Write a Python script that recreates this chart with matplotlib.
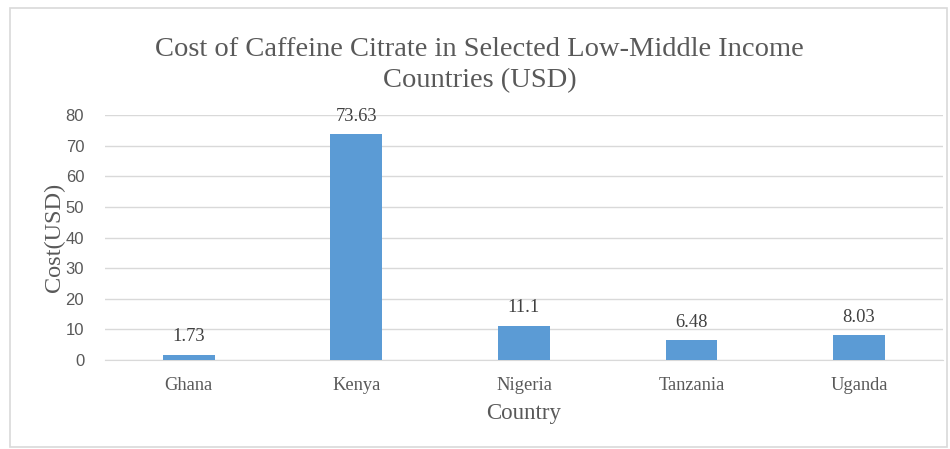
import matplotlib.pyplot as plt
from matplotlib.patches import Rectangle

countries = ['Ghana', 'Kenya', 'Nigeria', 'Tanzania', 'Uganda']
cost_usd = [1.73, 73.63, 11.1, 6.48, 8.03]
cost_labels = ['1.73', '73.63', '11.1', '6.48', '8.03']
y_ticks = [0, 10, 20, 30, 40, 50, 60, 70, 80]

serif = ['Liberation Serif', 'DejaVu Serif']
sans = ['Liberation Sans', 'DejaVu Sans']

fig = plt.figure(figsize=(9.5, 4.49), dpi=100)
ax = fig.add_axes([0.1105, 0.198, 0.882, 0.546])

# chart border like the office export
fig.patches.append(Rectangle((10 / 950, 2 / 449), 937 / 950, 439 / 449,
                             transform=fig.transFigure, fill=False,
                             edgecolor='#d9d9d9', linewidth=1.2))

x = range(len(countries))
bars = ax.bar(x, cost_usd, width=0.31, color='#5b9bd5', zorder=3)
for b, lab in zip(bars, cost_labels):
    ax.annotate(lab, (b.get_x() + b.get_width() / 2, b.get_height()),
                xytext=(0, 7), textcoords='offset points', ha='center', va='bottom',
                fontsize=13.3, family=serif, color='#404040')

ax.set_xlim(-0.5, len(countries) - 0.5)
ax.set_ylim(0, 80)
ax.set_yticks(y_ticks)
ax.set_xticks(list(x))
ax.set_xticklabels(countries, family=serif, fontsize=13.3, color='#595959')
for t in ax.get_yticklabels():
    t.set_family(sans)
    t.set_fontsize(12)
    t.set_color('#595959')
ax.tick_params(length=0, pad=15)
ax.tick_params(axis='x', pad=12)
ax.grid(axis='y', color='#d9d9d9', linewidth=1, zorder=0)
for s in ['top', 'right', 'left']:
    ax.spines[s].set_visible(False)
ax.spines['bottom'].set_color('#d9d9d9')

ax.set_xlabel('Country', family=serif, fontsize=16.5, color='#595959', labelpad=7)
ax.set_ylabel('Cost(USD)', family=serif, fontsize=17.5, color='#595959', labelpad=0)
fig.text(0.505, 0.855, 'Cost of Caffeine Citrate in Selected Low-Middle Income\nCountries (USD)',
         ha='center', va='center', family=serif, fontsize=20.5, color='#595959',
         linespacing=1.33)

fig.savefig('out.png', dpi=100)
